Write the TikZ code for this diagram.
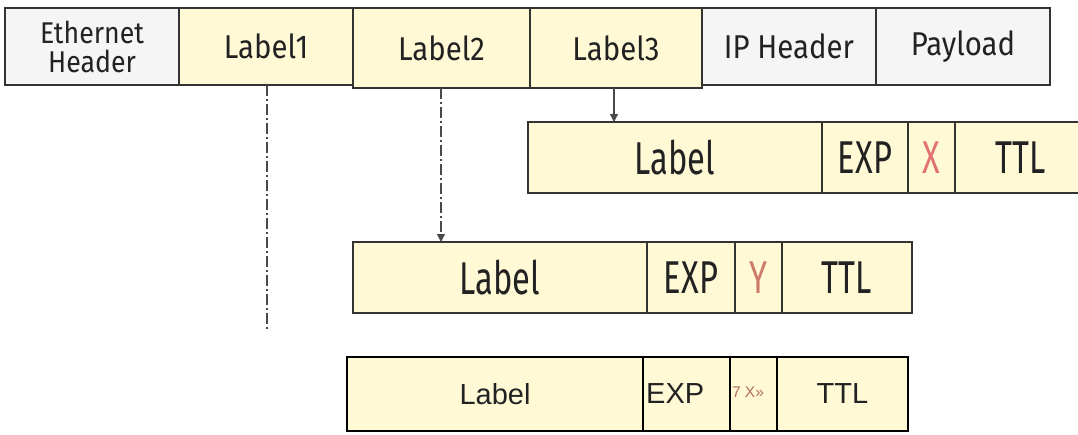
\documentclass[tikz,border=0pt]{standalone}
\usepackage{fontspec}
\setmainfont{Fira Sans}
\newfontfamily\hdrfont{Fira Sans}[FakeStretch=0.89]
\newfontfamily\stackfont{Fira Sans}[FakeStretch=0.71]
\newfontfamily\arialfont{Liberation Sans}
\usetikzlibrary{arrows.meta}

\definecolor{edge}{HTML}{333333}
\definecolor{ink}{HTML}{222222}
\definecolor{labelfill}{HTML}{FFF9D6}
\definecolor{hdrfill}{HTML}{F5F5F5}
\definecolor{xred}{HTML}{E07272}
\definecolor{yred}{HTML}{CC7A6A}
\definecolor{smallred}{HTML}{B0705C}
\definecolor{dashgray}{HTML}{4A4A4A}

\begin{document}
\begin{tikzpicture}[x=1pt,y=-1pt,
  cell/.style={draw=edge, line width=1.4pt, inner sep=0pt, outer sep=0pt,
    text=ink, anchor=center},
  hdrcell/.style={cell, fill=hdrfill, minimum height=77pt,
    font=\hdrfont\fontsize{33}{36}\selectfont, align=center},
  lblcell/.style={hdrcell, fill=labelfill},
  stackcell/.style={cell, fill=labelfill, minimum height=71pt,
    font=\stackfont\fontsize{46}{50}\selectfont},
  plaincell/.style={draw=black, line width=2pt, inner sep=0pt, outer sep=0pt,
    fill=labelfill, minimum height=74pt, text=ink,
    font=\arialfont\fontsize{29}{32}\selectfont},
  chaindash/.style={draw=dashgray, line width=1.3pt,
    dash pattern=on 11pt off 3pt on 2pt off 3pt},
  pointer/.style={-{Triangle[width=8pt,length=8pt]}}
]
\useasboundingbox[fill=white] (0,0) rectangle (1078,434);

% packet on the wire: Ethernet header, label stack, IP header, payload
\node[hdrcell, minimum width=174pt, font=\hdrfont\fontsize{30}{29}\selectfont]
  (eth) at (92,46.5) {Ethernet\\Header};
\node[lblcell, minimum width=174pt] (l1) at (266,46.5) {Label1};
\node[lblcell, minimum width=177pt, minimum height=80pt] (l2) at (441.5,48) {Label2};
\node[lblcell, minimum width=172pt, minimum height=80pt] (l3) at (616,48) {Label3};
\node[hdrcell, minimum width=174pt] (ip) at (789,46.5) {IP Header};
\node[hdrcell, minimum width=174pt] (pay) at (963,46.5) {Payload};

% fields of the top label (runs off to the right)
\node[stackcell, minimum width=294pt] (r2lab) at (675,157.5) {Label};
\node[stackcell, minimum width=86pt] (r2exp) at (865,157.5) {EXP};
\node[stackcell, minimum width=47pt, text=xred] (r2x) at (931.5,157.5) {X};
\node[stackcell, minimum width=132pt] (r2ttl) at (1021,157.5) {TTL};

% fields of the middle label
\node[stackcell, minimum width=294pt] (r3lab) at (500,277.5) {Label};
\node[stackcell, minimum width=88pt] (r3exp) at (691,277.5) {EXP};
\node[stackcell, minimum width=47pt, text=yred] (r3y) at (758.5,277.5) {Y};
\node[stackcell, minimum width=130pt] (r3ttl) at (847,277.5) {TTL};

% generic label entry
\node[plaincell, minimum width=296pt] (r4lab) at (495,394) {Label};
\node[plaincell, minimum width=87pt] (r4exp) at (686.5,394) {};
\node[plaincell, minimum width=47pt] (r4x) at (753.5,394) {};
\node[plaincell, minimum width=131pt] (r4ttl) at (842.5,394) {TTL};
\node[anchor=west, inner sep=0pt, text=ink,
  font=\arialfont\fontsize{29}{32}\selectfont] (r4exptxt) at (646,394) {EXP};
\node[inner sep=0pt, text=smallred,
  font=\arialfont\fontsize{15.5}{18}\selectfont] (r4xtxt) at (748,392) {7 X»};

% connectors from the label stack
\coordinate (l1end) at (267,330);
\coordinate (l2x) at (441,0);
\coordinate (l3x) at (614,0);
\draw[chaindash] (l1.south -| l1end) -- (l1end);
\draw[chaindash, pointer] (l2.south -| l2x) -- (r3lab.north -| l2x);
\draw[draw=dashgray, line width=1.3pt, pointer] (l3.south -| l3x) -- (r2lab.north -| l3x);
\end{tikzpicture}
\end{document}
